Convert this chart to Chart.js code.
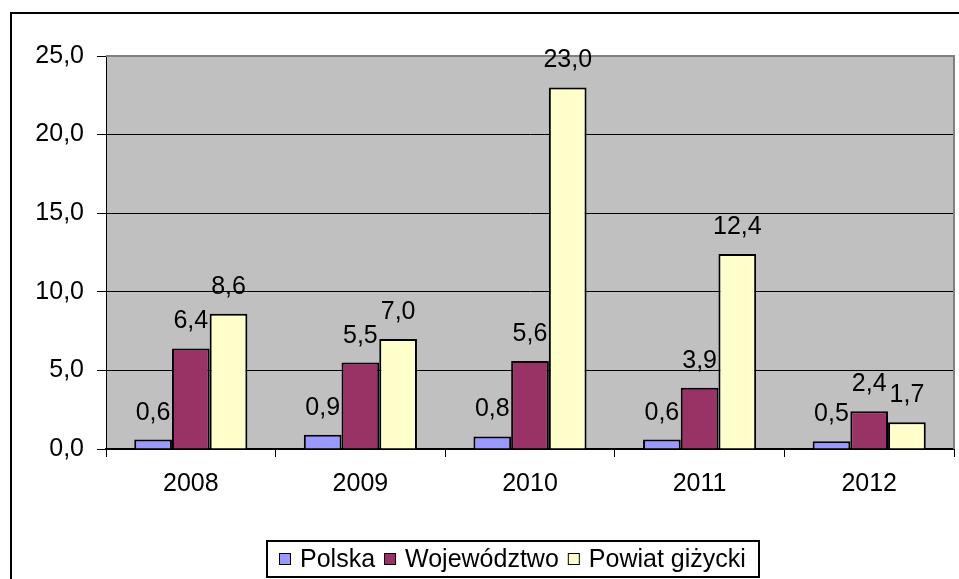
<!DOCTYPE html>
<html>
<head>
<meta charset="utf-8">
<script src="https://cdn.jsdelivr.net/npm/chart.js@4/dist/chart.umd.min.js"></script>
<style>
  html, body { margin: 0; padding: 0; background: #fff; }
  canvas { display: block; }
</style>
</head>
<body>
<canvas id="chart" width="959" height="579"></canvas>
<script>
// ── Data ──
const years = ['2008', '2009', '2010', '2011', '2012'];
const polska = [0.6, 0.9, 0.8, 0.6, 0.5];
const wojewodztwo = [6.4, 5.5, 5.6, 3.9, 2.4];
const powiat = [8.6, 7.0, 23.0, 12.4, 1.7];
const seriesNames = ['Polska', 'Województwo', 'Powiat giżycki'];
const seriesColors = ['#9999FF', '#993366', '#FFFFCC'];

const FONT = "'Liberation Sans', Arial, sans-serif";
const FONT_SIZE = 25;
const fmt = v => v.toFixed(1).replace('.', ',');

Chart.defaults.font.family = FONT;
Chart.defaults.font.size = FONT_SIZE;
Chart.defaults.color = '#000';

// ── Excel-ish frame, plot background, labels and legend ──
const excelLook = {
  id: 'excelLook',
  beforeDraw(chart) {
    const { ctx, chartArea: a } = chart;
    ctx.save();
    ctx.fillStyle = '#fff';
    ctx.fillRect(0, 0, chart.width, chart.height);
    ctx.fillStyle = '#C0C0C0';
    ctx.fillRect(a.left, a.top, a.right - a.left, a.bottom - a.top);
    // outer frame (runs off the right / bottom edge)
    ctx.strokeStyle = '#000';
    ctx.lineWidth = 2;
    ctx.strokeRect(11, 13, 1000, 1000);
    ctx.restore();
  },
  afterDatasetsDraw(chart) {
    const { ctx, chartArea: a } = chart;
    ctx.save();
    // plot area border, top & right
    ctx.strokeStyle = '#808080';
    ctx.lineWidth = 2;
    ctx.beginPath();
    ctx.moveTo(a.left, a.top);
    ctx.lineTo(a.right, a.top);
    ctx.lineTo(a.right, a.bottom);
    ctx.stroke();

    // value labels
    ctx.fillStyle = '#000';
    ctx.font = `${FONT_SIZE}px ${FONT}`;
    ctx.textAlign = 'center';
    ctx.textBaseline = 'alphabetic';
    chart.data.datasets.forEach((ds, i) => {
      chart.getDatasetMeta(i).data.forEach((bar, j) => {
        ctx.fillText(fmt(ds.data[j]), bar.x, bar.y - 20);
      });
    });

    // legend
    const box = { x: 267, y: 541, w: 492, h: 36 };
    ctx.strokeStyle = '#000';
    ctx.lineWidth = 2;
    ctx.strokeRect(box.x, box.y, box.w, box.h);
    const cy = box.y + box.h / 2;
    let x = 279;
    ctx.textAlign = 'left';
    ctx.textBaseline = 'middle';
    chart.data.datasets.forEach(ds => {
      ctx.fillStyle = ds.backgroundColor;
      ctx.fillRect(x, cy - 6, 12, 12);
      ctx.lineWidth = 1;
      ctx.strokeRect(x + 0.5, cy - 5.5, 11, 11);
      x += 21;
      ctx.fillStyle = '#000';
      ctx.fillText(ds.label, x, cy + 1);
      x += ctx.measureText(ds.label).width + 9;
    });
    ctx.restore();
  }
};

new Chart(document.getElementById('chart'), {
  type: 'bar',
  data: {
    labels: years,
    datasets: [polska, wojewodztwo, powiat].map((d, i) => ({
      label: seriesNames[i],
      data: d,
      backgroundColor: seriesColors[i],
      borderColor: '#000',
      borderWidth: 2,
      borderSkipped: 'start',
      barPercentage: 1,
      categoryPercentage: 0.667,
    })),
  },
  options: {
    responsive: false,
    animation: false,
    devicePixelRatio: 1,
    layout: { padding: { left: 0, top: 56, right: 5, bottom: 0 } },
    plugins: {
      legend: { display: false },
      tooltip: { enabled: false },
    },
    scales: {
      x: {
        afterFit: s => { s.height = 130; },
        grid: {
          offset: true,
          drawOnChartArea: false,
          tickLength: 8,
          tickColor: '#000',
          tickWidth: 1,
        },
        border: { display: true, color: '#000', width: 2 },
        ticks: { padding: 12, color: '#000' },
      },
      y: {
        min: 0,
        max: 25,
        afterFit: s => { s.width = 106; },
        grid: {
          color: ctx => (ctx.tick && ctx.tick.value === 25 ? 'rgba(0,0,0,0)' : '#000'),
          lineWidth: 1,
          tickLength: 9,
          tickColor: '#000',
        },
        border: { display: true, color: '#000', width: 1 },
        ticks: {
          stepSize: 5,
          padding: 13,
          color: '#000',
          callback: v => fmt(v),
        },
      },
    },
  },
  plugins: [excelLook],
});
</script>
</body>
</html>
